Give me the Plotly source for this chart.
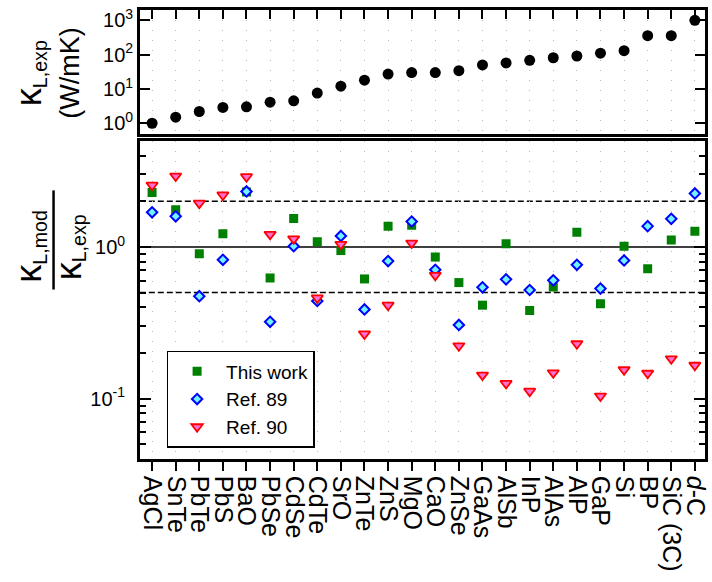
import plotly.graph_objects as go

# Compounds, ordered by measured lattice thermal conductivity
compounds = ["AgCl", "SnTe", "PbTe", "PbS", "BaO", "PbSe", "CdSe", "CdTe",
             "SrO", "ZnTe", "ZnS", "MgO", "CaO", "ZnSe", "GaAs", "AlSb",
             "InP", "AlAs", "AlP", "GaP", "Si", "BP", "SiC (3C)", "d-C"]
compound_labels = compounds[:-1] + ["<i>d</i>-C"]

# Experimental lattice thermal conductivity (W/mK)
kappa_exp = [1.0, 1.5, 2.2, 2.9, 3.0, 4.1, 4.5, 7.6, 12, 18, 27, 30,
             30, 34, 50, 57, 68, 81, 91, 110, 130, 355, 355, 1000]

# Ratio of modelled to experimental conductivity
ratio_this_work = [2.28, 1.76, 0.90, 1.22, 2.30, 0.624, 1.54, 1.08,
                   0.946, 0.615, 1.37, 1.39, 0.857, 0.582, 0.413, 1.05,
                   0.381, 0.545, 1.25, 0.422, 1.01, 0.718, 1.11, 1.27]
ratio_ref89 = [1.69, 1.59, 0.473, 0.822, 2.32, 0.321, 1.01, 0.44,
               1.18, 0.387, 0.806, 1.47, 0.707, 0.306, 0.542, 0.611,
               0.520, 0.602, 0.762, 0.531, 0.814, 1.37, 1.53, 2.25]
ratio_ref90 = [2.55, 2.93, 1.94, 2.20, 2.90, 1.21, 1.13, 0.461,
               1.04, 0.267, 0.413, 1.06, 0.650, 0.223, 0.143, 0.126,
               0.112, 0.148, 0.230, 0.104, 0.155, 0.147, 0.183, 0.166]

# Reference ratios drawn as horizontal guides
guide_solid = 1.0
guide_dashed = [2.0, 0.5]

top_ticks = [1, 10, 100, 1000]
top_ticktext = ["10<sup>0</sup>", "10<sup>1</sup>", "10<sup>2</sup>", "10<sup>3</sup>"]
bottom_ticks = [0.1, 1]
bottom_ticktext = ["10<sup>-1</sup>", "10<sup>0</sup>"]
bottom_minor = [0.04, 0.05, 0.06, 0.07, 0.08, 0.09,
                0.2, 0.3, 0.4, 0.5, 0.6, 0.7, 0.8, 0.9, 2, 3, 4, 5]

FONT = "Arial, Liberation Sans, sans-serif"
W, H = 712, 582
x_dom = [140 / W, 710 / W]
top_dom = [1 - 130.7 / H, 1 - 6 / H]
bot_dom = [1 - 459 / H, 1 - 138 / H]
x_range = [-0.52, 23.43]

fig = go.Figure()

fig.add_trace(go.Scatter(
    x=compounds, y=kappa_exp, mode="markers", xaxis="x", yaxis="y",
    marker=dict(symbol="circle", size=11, color="black"), showlegend=False))

fig.add_trace(go.Scatter(
    x=compounds, y=ratio_this_work, mode="markers", name="This work",
    xaxis="x2", yaxis="y2",
    marker=dict(symbol="square", size=9, color="#008000",
                line=dict(width=0))))
fig.add_trace(go.Scatter(
    x=compounds, y=ratio_ref89, mode="markers", name="Ref. 89",
    xaxis="x2", yaxis="y2",
    marker=dict(symbol="diamond", size=8, color="#70f4ff",
                line=dict(width=2, color="#0000ff"))))
fig.add_trace(go.Scatter(
    x=compounds, y=ratio_ref90, mode="markers", name="Ref. 90",
    xaxis="x2", yaxis="y2",
    marker=dict(symbol="triangle-down", size=10, color="#ff6ed2",
                line=dict(width=1.8, color="#ff0000"))))

grid = dict(showgrid=True, gridcolor="#b8b8b8", gridwidth=1, griddash="1px,9px")
frame = dict(showline=True, linecolor="black", linewidth=2.5)

fig.update_layout(
    width=W, height=H,
    margin=dict(l=0, r=0, t=0, b=0),
    paper_bgcolor="white", plot_bgcolor="white",
    font=dict(family=FONT, color="black"),
    xaxis=dict(domain=x_dom, anchor="y", side="top", type="category",
               categoryorder="array", categoryarray=compounds,
               range=x_range, mirror=True, ticks="inside", ticklen=9,
               tickwidth=2, tickcolor="black", showticklabels=False,
               zeroline=False, **grid, **frame),
    yaxis=dict(domain=top_dom, anchor="x", type="log",
               range=[-0.301, 3.301], tickmode="array", tickvals=top_ticks,
               ticktext=top_ticktext, ticks="inside", ticklen=10,
               tickwidth=2, tickcolor="black", mirror="ticks",
               showgrid=False, zeroline=False,
               tickfont=dict(size=20), ticklabelstandoff=0, **frame),
    xaxis2=dict(domain=x_dom, anchor="y2", type="category",
                categoryorder="array", categoryarray=compounds,
                range=x_range, mirror=True, ticks="outside", ticklen=9,
                tickwidth=2, tickcolor="black", tickmode="array",
                tickvals=compounds, ticktext=compound_labels,
                tickangle=90, tickfont=dict(size=25),
                zeroline=False, **grid, **frame),
    yaxis2=dict(domain=bot_dom, anchor="x2", type="log",
                range=[-1.398, 0.699], tickmode="array",
                tickvals=bottom_ticks, ticktext=bottom_ticktext,
                ticks="inside", ticklen=11, tickwidth=2, tickcolor="black",
                mirror="ticks", showgrid=False, zeroline=False,
                minor=dict(tickmode="array", tickvals=bottom_minor,
                           ticks="inside", ticklen=6, tickwidth=2,
                           tickcolor="black", showgrid=False),
                tickfont=dict(size=20), ticklabelstandoff=8, **frame),
    legend=dict(x=167 / W, y=1 - 350 / H, xanchor="left", yanchor="top",
                bgcolor="white", bordercolor="black", borderwidth=1.5,
                font=dict(size=19, family=FONT), itemwidth=48,
                tracegroupgap=0),
)

# Horizontal guide lines on the ratio panel
fig.add_shape(type="line", xref="x2 domain", yref="y2", x0=0, x1=1,
              y0=guide_solid, y1=guide_solid,
              line=dict(color="black", width=1.5), layer="below")
for g in guide_dashed:
    fig.add_shape(type="line", xref="x2 domain", yref="y2", x0=0, x1=1,
                  y0=g, y1=g, line=dict(color="black", width=1.5, dash="6px,3px"),
                  layer="below")

# Axis titles
def vtext(text, xc, yc, size):
    fig.add_annotation(text=text, x=xc / W, y=1 - yc / H, xref="paper",
                       yref="paper", showarrow=False, textangle=-90,
                       xanchor="center", yanchor="middle",
                       font=dict(size=size, family=FONT, color="black"))

kappa = "<span style='font-size:36px'>κ</span>"
vtext(kappa + "<sub>L,exp</sub>", 29, 70, 28)
vtext("(W/mK)", 70, 70, 27)
vtext(kappa + "<sub>L,mod</sub>", 29, 245, 28)
vtext(kappa + "<sub>L,exp</sub>", 69, 245, 28)
fig.add_shape(type="line", xref="paper", yref="paper",
              x0=53 / W, x1=53 / W, y0=1 - 188 / H, y1=1 - 288 / H,
              line=dict(color="black", width=2.5))

fig.write_html("out.html")
